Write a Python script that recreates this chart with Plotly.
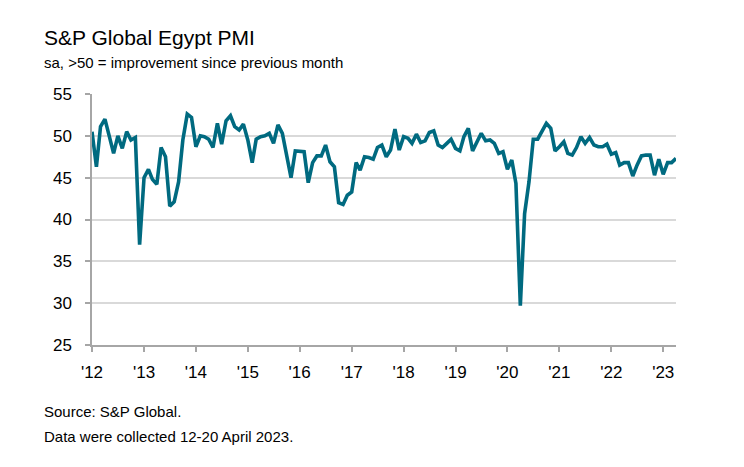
import pandas as pd
import plotly.graph_objects as go

# Monthly PMI readings (Jan 2012 - Apr 2023)
pmi_2012 = [50.5, 46.3, 51.1, 52.0, 50.0, 47.9, 50.0, 48.5, 50.5, 49.5, 49.8, 37.0]
pmi_2013 = [45.0, 46.0, 44.8, 44.2, 48.6, 47.5, 41.6, 42.1, 44.5, 49.5, 52.6, 52.2]
pmi_2014 = [48.7, 50.0, 49.9, 49.6, 48.6, 51.5, 49.0, 51.8, 52.4, 51.1, 50.7, 51.4]
pmi_2015 = [49.5, 46.8, 49.6, 49.9, 50.0, 50.3, 49.1, 51.3, 50.3, 47.5, 45.0, 48.2]
pmi_2016 = [48.1, 48.1, 44.4, 46.8, 47.6, 47.6, 48.9, 46.9, 46.3, 42.0, 41.8, 42.9]
pmi_2017 = [43.3, 46.8, 45.9, 47.5, 47.4, 47.2, 48.6, 48.9, 47.5, 48.3, 50.8, 48.3]
pmi_2018 = [49.9, 49.7, 49.1, 50.2, 49.2, 49.4, 50.4, 50.6, 48.9, 48.6, 49.1, 49.6]
pmi_2019 = [48.5, 48.2, 49.9, 50.9, 48.2, 49.3, 50.3, 49.4, 49.5, 49.1, 47.9, 48.1]
pmi_2020 = [46.0, 47.1, 44.3, 29.7, 40.7, 44.5, 49.6, 49.6, 50.5, 51.5, 50.9, 48.2]
pmi_2021 = [48.7, 49.3, 47.9, 47.7, 48.6, 49.9, 49.1, 49.8, 48.9, 48.7, 48.7, 49.0]
pmi_2022 = [47.8, 48.0, 46.5, 46.8, 46.8, 45.2, 46.5, 47.6, 47.7, 47.7, 45.3, 47.2]
pmi_2023 = [45.4, 46.8, 46.8, 47.3]

tick_years = list(range(2012, 2024))
tick_labels = ["'" + str(y)[2:] for y in tick_years]
y_ticks = [25, 30, 35, 40, 45, 50, 55]

values = (pmi_2012 + pmi_2013 + pmi_2014 + pmi_2015 + pmi_2016 + pmi_2017 +
          pmi_2018 + pmi_2019 + pmi_2020 + pmi_2021 + pmi_2022 + pmi_2023)
months = pd.date_range("2012-01-01", periods=len(values), freq="MS")

LINE = "#006a80"
AXIS = "#a6a6a6"
GRID = "#d9d9d9"
FONT = "Liberation Sans, Arial, sans-serif"

W, H = 744, 467
ML, MR, MT, MB = 92, 68, 94, 122

fig = go.Figure()
fig.add_trace(go.Scatter(
    x=months, y=values, mode="lines",
    line=dict(color=LINE, width=3.6),
    hoverinfo="x+y", showlegend=False,
))

fig.update_layout(
    width=W, height=H, autosize=False,
    margin=dict(l=ML, r=MR, t=MT, b=MB),
    paper_bgcolor="white", plot_bgcolor="white",
    font=dict(family=FONT, color="#000000"),
)

fig.update_xaxes(
    range=[months[0], months[-1]],
    tickvals=[pd.Timestamp(f"{y}-01-01") for y in tick_years],
    ticktext=tick_labels,
    tickfont=dict(size=17, family=FONT, color="#000000"),
    showgrid=False, showline=True, linecolor=AXIS, linewidth=1.5,
    ticks="outside", ticklen=5, tickwidth=1.5, tickcolor=AXIS,
    ticklabelstandoff=6, zeroline=False,
)
fig.update_yaxes(
    range=[25, 55], tickvals=y_ticks,
    tickfont=dict(size=17, family=FONT, color="#000000"),
    showgrid=True, gridcolor=GRID, gridwidth=1.5,
    showline=True, linecolor=AXIS, linewidth=1.5,
    ticks="outside", ticklen=5, tickwidth=1.5, tickcolor=AXIS,
    ticklabelstandoff=10, zeroline=False,
)

plot_h = H - MT - MB
plot_w = W - ML - MR
def px_x(px):
    return (px - ML) / plot_w
def px_y(py):
    return (H - MB - py) / plot_h

texts = [
    ("S&P Global Egypt PMI", 21, 24),
    ("sa, >50 = improvement since previous month", 15, 52),
    ("Source: S&P Global.", 15, 401),
    ("Data were collected 12-20 April 2023.", 15, 426),
]
for txt, size, top in texts:
    fig.add_annotation(text=txt, xref="paper", yref="paper",
                       x=px_x(42), y=px_y(top), xanchor="left", yanchor="top",
                       showarrow=False,
                       font=dict(size=size, family=FONT, color="#000000"))

fig.write_html("out.html",
               config={"displayModeBar": False},
               post_script="document.body.style.margin='0';document.body.style.overflow='hidden';")
